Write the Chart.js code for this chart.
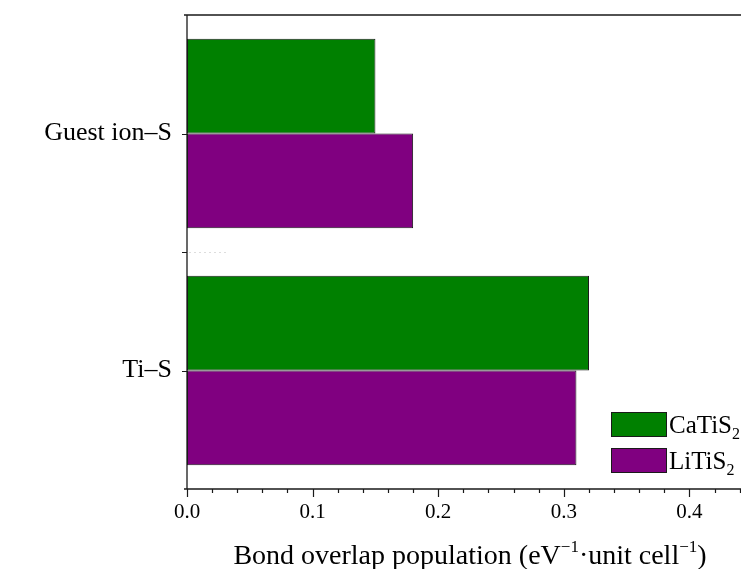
<!DOCTYPE html>
<html>
<head>
<meta charset="utf-8">
<script src="https://cdn.jsdelivr.net/npm/chart.js@4.4.1/dist/chart.umd.min.js"></script>
<style>
  html, body { margin: 0; padding: 0; background: #fff; }
  #wrap { width: 741px; height: 569px; }
</style>
</head>
<body>
<div id="wrap"><canvas id="chart" width="741" height="569"></canvas></div>
<script>
// data
const categories = ['Guest ion\u2013S', 'Ti\u2013S'];
const caTiS2 = [0.15, 0.32];
const liTiS2 = [0.18, 0.31];
const seriesNames = [['CaTiS', '2'], ['LiTiS', '2']];
const seriesColors = ['#008000', '#800080'];
const xMajorStep = 0.1;
const xMinorStep = 0.02;

const SERIF = '"Liberation Serif", "Times New Roman", serif';
const INK = '#1a1a1a';

// axes lines, ticks, legend and axis title drawn by hand (subscripts/superscripts)
const decor = {
  id: 'decor',
  afterDraw(chart) {
    const { ctx, chartArea: a, scales: { x, y } } = chart;
    ctx.save();
    ctx.strokeStyle = INK;
    ctx.lineWidth = 1.3;

    // frame: left, bottom, top
    ctx.beginPath();
    ctx.moveTo(a.left, a.top); ctx.lineTo(a.left, a.bottom);
    ctx.moveTo(a.left - 3, a.bottom); ctx.lineTo(a.right, a.bottom);
    ctx.moveTo(a.left - 3, a.top); ctx.lineTo(a.right, a.top);
    ctx.stroke();

    // x ticks
    ctx.lineWidth = 1.2;
    ctx.beginPath();
    for (let i = 0; i * xMinorStep <= x.max + 1e-9; i++) {
      const v = i * xMinorStep;
      const px = Math.round(x.getPixelForValue(v)) + 0.5;
      const major = i % 5 === 0;
      ctx.moveTo(px, a.bottom);
      ctx.lineTo(px, a.bottom + (major ? 8 : 4));
    }
    ctx.stroke();

    // y ticks: category centres and boundary between them
    const yc = categories.map((c, i) => y.getPixelForValue(i));
    const ys = yc.concat([(yc[0] + yc[1]) / 2]);
    ctx.beginPath();
    ys.forEach(p => {
      const py = Math.round(p) + 0.5;
      ctx.moveTo(a.left, py);
      ctx.lineTo(a.left - 5, py);
    });
    ctx.stroke();

    // faint dotted separator
    ctx.strokeStyle = '#dddddd';
    ctx.lineWidth = 1;
    ctx.setLineDash([2, 3]);
    ctx.beginPath();
    const mid = Math.round((yc[0] + yc[1]) / 2) + 0.5;
    ctx.moveTo(a.left + 2, mid); ctx.lineTo(a.left + 40, mid);
    ctx.stroke();
    ctx.setLineDash([]);

    // legend
    const boxX = 611, boxW = 55, boxH = 24;
    const boxY = [412, 448];
    seriesNames.forEach((nm, i) => {
      ctx.fillStyle = seriesColors[i];
      ctx.fillRect(boxX, boxY[i], boxW, boxH);
      ctx.strokeStyle = INK;
      ctx.lineWidth = 1;
      ctx.strokeRect(boxX + 0.5, boxY[i] + 0.5, boxW, boxH);
      ctx.fillStyle = '#000';
      ctx.textBaseline = 'alphabetic';
      ctx.textAlign = 'left';
      ctx.font = '25px ' + SERIF;
      const base = boxY[i] + 21;
      const tx = boxX + boxW + 3;
      ctx.fillText(nm[0], tx, base);
      const w = ctx.measureText(nm[0]).width;
      ctx.font = '16px ' + SERIF;
      ctx.fillText(nm[1], tx + w, base + 6);
    });

    // x axis title with superscripts
    const parts = [
      ['Bond overlap population (eV', 0],
      ['\u22121', 1],
      ['\u00B7unit cell', 0],
      ['\u22121', 1],
      [')', 0]
    ];
    const bigF = '28px ' + SERIF, smallF = '17px ' + SERIF;
    let total = 0;
    parts.forEach(p => { ctx.font = p[1] ? smallF : bigF; total += ctx.measureText(p[0]).width; });
    let cx = 470 - total / 2;
    const baseY = 564;
    ctx.fillStyle = '#000';
    ctx.textAlign = 'left';
    parts.forEach(p => {
      ctx.font = p[1] ? smallF : bigF;
      ctx.fillText(p[0], cx, p[1] ? baseY - 12 : baseY);
      cx += ctx.measureText(p[0]).width;
    });
    ctx.restore();
  }
};

new Chart(document.getElementById('chart'), {
  type: 'bar',
  data: {
    labels: categories,
    datasets: [
      { label: 'CaTiS2', data: caTiS2, backgroundColor: seriesColors[0], borderColor: INK, borderWidth: 1, borderSkipped: false },
      { label: 'LiTiS2', data: liTiS2, backgroundColor: seriesColors[1], borderColor: INK, borderWidth: 1, borderSkipped: false }
    ]
  },
  options: {
    indexAxis: 'y',
    responsive: false,
    animation: false,
    layout: { autoPadding: false, padding: { top: 15, right: 0, left: 0, bottom: 0 } },
    datasets: { bar: { categoryPercentage: 0.8, barPercentage: 1.0 } },
    plugins: { legend: { display: false }, tooltip: { enabled: false } },
    scales: {
      x: {
        min: 0,
        max: 0.441,
        border: { display: false },
        grid: { display: false, drawTicks: false },
        ticks: {
          stepSize: xMajorStep,
          includeBounds: false,
          padding: 11,
          color: '#000',
          font: { family: SERIF, size: 21 },
          callback: v => Number(v).toFixed(1)
        },
        afterFit: s => { s.height = 80; s.paddingLeft = 0; s.paddingRight = 0; }
      },
      y: {
        border: { display: false },
        grid: { display: false, drawTicks: false },
        ticks: {
          padding: 15,
          color: '#000',
          font: { family: SERIF, size: 26 }
        },
        afterFit: s => { s.width = 187; s.paddingTop = 0; s.paddingBottom = 0; }
      }
    }
  },
  plugins: [decor]
});
</script>
</body>
</html>
